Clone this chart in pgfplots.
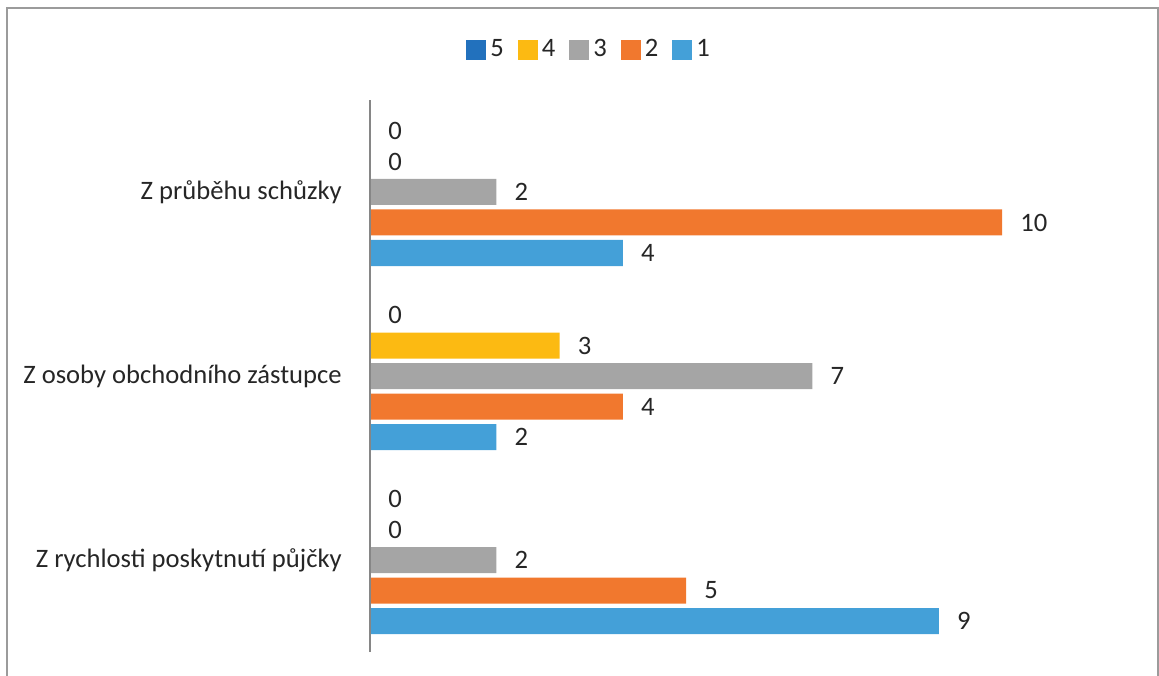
\documentclass[border=0pt]{standalone}
\usepackage{fontspec}
\setmainfont{Carlito}
\usepackage{pgfplots}
\pgfplotsset{compat=1.18}
\definecolor{cfive}{RGB}{34,113,189}
\definecolor{cfour}{RGB}{252,186,18}
\definecolor{cthree}{RGB}{165,165,165}
\definecolor{ctwo}{RGB}{241,120,46}
\definecolor{cone}{RGB}{68,160,216}
\definecolor{framegray}{RGB}{155,155,155}
\definecolor{axisgray}{RGB}{134,134,134}
\definecolor{txt}{RGB}{38,38,38}
\newcommand{\lblfont}{\fontsize{13.3}{15}\selectfont}
\begin{document}
\lblfont
\begin{tikzpicture}[x=1pt,y=1pt]
\useasboundingbox (0,0) rectangle (579.5,337.5);
\draw[color=framegray, line width=0.8pt] (3.6,-5) -- (3.6,333.5) -- (578.9,333.5) -- (578.9,-5);
\begin{axis}[
  at={(185pt,11.5pt)}, anchor=south west,
  scale only axis, width=347.6pt, height=276pt,
  xmin=0, xmax=11, ymin=-0.5, ymax=2.5,
  hide x axis,
  axis y line*=left,
  axis on top,
  y axis line style={draw=axisgray, line width=0.8pt},
  ytick={0,1,2},
  yticklabels={Z rychlosti poskytnutí půjčky, Z osoby obchodního zástupce, Z průběhu schůzky},
  major tick length=0pt,
  yticklabel style={font=\lblfont, text=txt, xshift=-9.5pt},
  /pgf/number format/assume math mode=true,
  xbar, bar width=13pt,
  nodes near coords,
  every node near coord/.append style={anchor=west, xshift=4.5pt, text=txt, font=\lblfont},
  legend columns=5,
  reverse legend,
  legend style={at={(0.3165,1.091)}, anchor=center, draw=none, fill=none,
    font=\lblfont, text=txt,
    /tikz/every even column/.append style={column sep=5pt}},
  legend image code/.code={\fill[#1] (0pt,-5pt) rectangle (10pt,5pt);},
]
\addplot[fill=cone, draw=none, bar shift=-30.5pt] coordinates {(9,0) (2,1) (4,2)};
\addplot[fill=ctwo, draw=none, bar shift=-15.25pt] coordinates {(5,0) (4,1) (10,2)};
\addplot[fill=cthree, draw=none, bar shift=0pt] coordinates {(2,0) (7,1) (2,2)};
\addplot[fill=cfour, draw=none, bar shift=15.25pt] coordinates {(0,0) (3,1) (0,2)};
\addplot[fill=cfive, draw=none, bar shift=30.5pt] coordinates {(0,0) (0,1) (0,2)};
\legend{1,2,3,4,5}
\end{axis}
\end{tikzpicture}
\end{document}
